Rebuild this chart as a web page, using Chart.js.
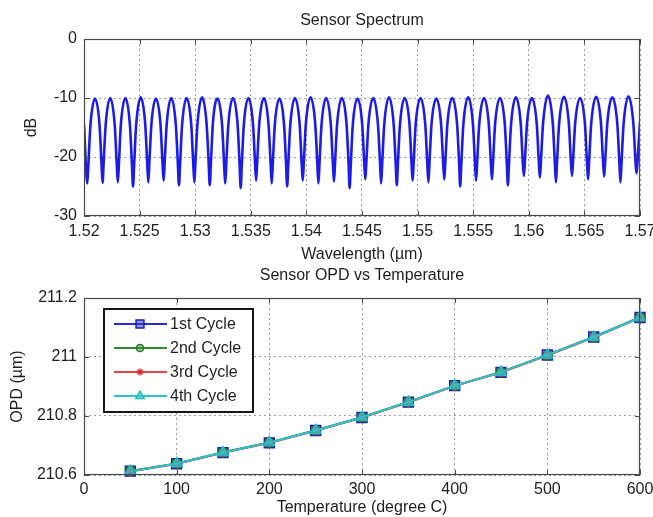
<!DOCTYPE html>
<html><head><meta charset="utf-8">
<script src="https://cdn.jsdelivr.net/npm/chart.js@4.4.1/dist/chart.umd.min.js"></script>
<style>
html,body{margin:0;padding:0;background:#fff;}
#wrap{position:relative;width:653px;height:517px;overflow:hidden;background:#fff;}
canvas{position:absolute;left:0;}
#c1{top:0;width:653px;height:266px;}
#c2{top:258px;width:653px;height:259px;}
</style></head><body>
<div id="wrap"><canvas id="c1" width="653" height="266"></canvas><canvas id="c2" width="653" height="259"></canvas></div>
<script>
// ---------- Top plot data: Sensor Spectrum ----------
const wavelengths = [1.52000,
 1.52030,1.52040,1.52058,1.52099,1.52139,1.52157,
 1.52167,1.52177,1.52195,1.52236,1.52276,1.52294,
 1.52304,1.52314,1.52332,1.52373,1.52413,1.52431,
 1.52441,1.52451,1.52469,1.52510,1.52550,1.52568,
 1.52578,1.52588,1.52606,1.52647,1.52688,1.52706,
 1.52716,1.52726,1.52744,1.52785,1.52826,1.52844,
 1.52854,1.52864,1.52882,1.52923,1.52964,1.52982,
 1.52992,1.53002,1.53020,1.53062,1.53103,1.53121,
 1.53131,1.53141,1.53159,1.53201,1.53242,1.53260,
 1.53270,1.53280,1.53298,1.53340,1.53381,1.53399,
 1.53409,1.53419,1.53437,1.53479,1.53520,1.53538,
 1.53548,1.53558,1.53576,1.53618,1.53660,1.53678,
 1.53688,1.53698,1.53716,1.53758,1.53799,1.53817,
 1.53827,1.53837,1.53855,1.53897,1.53939,1.53957,
 1.53967,1.53977,1.53995,1.54038,1.54080,1.54098,
 1.54108,1.54118,1.54136,1.54178,1.54220,1.54238,
 1.54248,1.54258,1.54276,1.54319,1.54361,1.54379,
 1.54389,1.54399,1.54417,1.54460,1.54502,1.54520,
 1.54530,1.54540,1.54558,1.54601,1.54644,1.54662,
 1.54672,1.54682,1.54700,1.54743,1.54785,1.54803,
 1.54813,1.54823,1.54841,1.54884,1.54927,1.54945,
 1.54955,1.54965,1.54983,1.55026,1.55069,1.55087,
 1.55097,1.55107,1.55125,1.55169,1.55212,1.55230,
 1.55240,1.55250,1.55268,1.55312,1.55355,1.55373,
 1.55383,1.55393,1.55411,1.55455,1.55498,1.55516,
 1.55526,1.55536,1.55554,1.55598,1.55641,1.55659,
 1.55669,1.55679,1.55697,1.55741,1.55784,1.55802,
 1.55812,1.55822,1.55840,1.55884,1.55928,1.55946,
 1.55956,1.55966,1.55984,1.56028,1.56072,1.56090,
 1.56100,1.56110,1.56128,1.56172,1.56216,1.56234,
 1.56244,1.56254,1.56272,1.56317,1.56361,1.56379,
 1.56389,1.56399,1.56417,1.56461,1.56505,1.56523,
 1.56533,1.56543,1.56561,1.56606,1.56650,1.56668,
 1.56678,1.56688,1.56706,1.56751,1.56796,1.56814,
 1.56824,1.56834,1.56852,1.56897,1.56941,1.56959,
 1.56969,1.56979,1.57000];
const spectrumDb = [-14.5,
 -24.5,-21.0,-14.6,-10.1,-14.4,-20.9,
 -24.4,-20.8,-14.5,-10.0,-14.5,-21.0,
 -24.3,-21.1,-14.4,-10.0,-14.6,-21.2,
 -25.0,-21.3,-14.6,-9.9,-14.3,-20.8,
 -24.3,-20.9,-14.5,-10.1,-14.5,-21.0,
 -24.0,-20.7,-14.4,-10.0,-14.6,-21.1,
 -24.8,-21.2,-14.6,-10.0,-14.4,-20.9,
 -24.3,-20.9,-14.5,-9.9,-14.5,-21.0,
 -24.8,-21.1,-14.3,-10.1,-14.6,-21.2,
 -24.5,-21.0,-14.5,-10.0,-14.4,-21.1,
 -25.3,-21.4,-14.6,-10.0,-14.5,-20.9,
 -24.0,-20.7,-14.4,-10.0,-14.6,-21.0,
 -24.5,-21.0,-14.5,-10.1,-14.5,-21.1,
 -25.0,-21.2,-14.6,-10.0,-14.4,-20.9,
 -24.0,-20.8,-14.4,-9.9,-14.5,-21.0,
 -24.5,-21.0,-14.5,-10.0,-14.6,-21.1,
 -24.2,-20.9,-14.5,-10.0,-14.4,-21.0,
 -25.3,-21.4,-14.6,-10.1,-14.5,-20.9,
 -23.8,-20.6,-14.4,-10.0,-14.6,-21.0,
 -24.5,-21.0,-14.5,-9.9,-14.5,-21.1,
 -24.8,-21.1,-14.6,-10.0,-14.4,-20.9,
 -24.0,-20.8,-14.4,-10.0,-14.5,-21.0,
 -24.3,-20.9,-14.5,-10.1,-14.6,-21.1,
 -23.8,-20.6,-14.4,-10.0,-14.4,-20.9,
 -25.0,-21.3,-14.6,-9.9,-14.5,-21.0,
 -24.0,-20.8,-14.5,-10.0,-14.6,-21.1,
 -23.8,-20.6,-14.4,-10.0,-14.4,-20.9,
 -24.8,-21.1,-14.6,-9.9,-14.5,-21.0,
 -23.2,-20.3,-14.3,-10.0,-14.5,-20.8,
 -23.5,-20.5,-14.4,-9.6,-14.4,-20.9,
 -24.3,-20.9,-14.5,-9.8,-14.5,-21.0,
 -23.2,-20.3,-14.3,-10.0,-14.4,-20.8,
 -23.8,-20.6,-14.4,-9.8,-14.5,-20.9,
 -23.3,-20.4,-14.3,-9.9,-14.4,-20.8,
 -24.3,-20.9,-14.5,-9.7,-14.5,-20.7,
 -22.8,-20.3,-14.0];
const spectrumXTicks = [1.52,1.525,1.53,1.535,1.54,1.545,1.55,1.555,1.56,1.565,1.57];
const spectrumXTickLabels = ['1.52','1.525','1.53','1.535','1.54','1.545','1.55','1.555','1.56','1.565','1.57'];
const spectrumYTicks = [-30,-20,-10,0];
const spectrumYTickLabels = ['-30','-20','-10','0'];

// ---------- Bottom plot data: OPD vs Temperature ----------
const temperatures = [50,100,150,200,250,300,350,400,450,500,550,600];
const cycle1 = [210.613,210.638,210.676,210.709,210.751,210.795,210.847,210.903,210.948,211.007,211.068,211.134];
const cycle2 = [210.614,210.639,210.677,210.710,210.752,210.796,210.848,210.902,210.949,211.006,211.067,211.135];
const cycle3 = [210.612,210.638,210.675,210.709,210.750,210.795,210.846,210.902,210.947,211.006,211.066,211.133];
const cycle4 = [210.613,210.639,210.676,210.710,210.751,210.796,210.847,210.903,210.948,211.007,211.067,211.134];
const opdXTicks = [0,100,200,300,400,500,600];
const opdXTickLabels = ['0','100','200','300','400','500','600'];
const opdYTicks = [210.6,210.8,211,211.2];
const opdYTickLabels = ['210.6','210.8','211','211.2'];

const FONT = '"Liberation Sans", Arial, Helvetica, sans-serif';
const TXT = '#1e1e1e';
Chart.defaults.font.family = FONT;
Chart.defaults.font.size = 16;
Chart.defaults.color = TXT;

const framePlugin = {
  id: 'frame',
  afterDraw(chart) {
    const {ctx, chartArea: a, scales} = chart;
    ctx.save();
    ctx.strokeStyle = '#4a4a4a';
    ctx.lineWidth = 1.2;
    ctx.strokeRect(a.left + 0.5, a.top + 0.5, a.right - a.left - 1, a.bottom - a.top - 1);
    ctx.lineWidth = 1;
    ctx.beginPath();
    const L = 5;
    scales.x.ticks.forEach(t => {
      const px = Math.round(scales.x.getPixelForValue(t.value)) + 0.5;
      ctx.moveTo(px, a.bottom); ctx.lineTo(px, a.bottom - L);
      ctx.moveTo(px, a.top); ctx.lineTo(px, a.top + L);
    });
    scales.y.ticks.forEach(t => {
      const py = Math.round(scales.y.getPixelForValue(t.value)) + 0.5;
      ctx.moveTo(a.left, py); ctx.lineTo(a.left + L, py);
      ctx.moveTo(a.right, py); ctx.lineTo(a.right - L, py);
    });
    ctx.stroke();
    ctx.restore();
  }
};

function drawMarker(ctx, style, r, x, y) {
  if (Chart.helpers && Chart.helpers.drawPoint) {
    Chart.helpers.drawPoint(ctx, {pointStyle: style, radius: r, rotation: 0, borderWidth: ctx.lineWidth}, x, y);
    return;
  }
  ctx.beginPath(); ctx.arc(x, y, r, 0, Math.PI * 2); ctx.fill(); ctx.stroke();
}

const legendPlugin = {
  id: 'boxLegend',
  afterDraw(chart) {
    const {ctx, chartArea: a} = chart;
    const x0 = a.left + 20, y0 = a.top + 11, w = 149, h = 103;
    ctx.save();
    ctx.fillStyle = '#fff';
    ctx.fillRect(x0, y0, w, h);
    ctx.strokeStyle = '#161616';
    ctx.lineWidth = 2;
    ctx.strokeRect(x0, y0, w, h);
    ctx.font = '16px ' + FONT;
    ctx.textBaseline = 'middle';
    ctx.textAlign = 'left';
    chart.data.datasets.forEach((ds, i) => {
      const y = y0 + 15 + i * 24;
      ctx.strokeStyle = ds.borderColor;
      ctx.lineWidth = 2;
      ctx.beginPath(); ctx.moveTo(x0 + 10, y); ctx.lineTo(x0 + 63, y); ctx.stroke();
      ctx.fillStyle = ds.pointBackgroundColor;
      ctx.strokeStyle = ds.pointBorderColor;
      ctx.lineWidth = ds.pointBorderWidth;
      drawMarker(ctx, ds.pointStyle, ds.pointRadius * 0.8, x0 + 36, y);
      ctx.fillStyle = TXT;
      ctx.fillText(ds.label, x0 + 66, y + 1);
    });
    ctx.restore();
  }
};

function gridOpts() {
  return {color: '#9c9c9c', lineWidth: 1, drawTicks: false};
}
function fixTicks(values) {
  return s => { s.ticks = values.map(v => ({value: v})); };
}

// ---------- Top chart ----------
new Chart(document.getElementById('c1'), {
  type: 'line',
  data: {
    datasets: [{
      label: 'Spectrum',
      data: wavelengths.map((w, i) => ({x: w, y: spectrumDb[i]})),
      borderColor: '#1c1ce8',
      borderWidth: 2.6,
      pointRadius: 0,
      cubicInterpolationMode: 'monotone',
      fill: false
    }]
  },
  options: {
    responsive: false, animation: false, devicePixelRatio: 1,
    layout: {padding: {left: 0, right: 13, top: 0, bottom: 0}},
    plugins: {
      legend: {display: false}, tooltip: {enabled: false},
      title: {display: true, text: 'Sensor Spectrum', fullSize: false, color: TXT,
              font: {size: 16, weight: 'normal'}, padding: {top: 11.4, bottom: 8.4}}
    },
    scales: {
      x: {
        type: 'linear', min: 1.52, max: 1.57,
        afterBuildTicks: fixTicks(spectrumXTicks),
        afterFit: s => { s.height = 50; s.paddingLeft = 0; s.paddingRight = 0; },
        ticks: {callback: (v, i) => spectrumXTickLabels[i], padding: 5.7, maxRotation: 0, autoSkip: false, color: TXT, font: {size: 16}},
        grid: gridOpts(),
        border: {display: false, dash: [2, 3]},
        title: {display: true, text: 'Wavelength (\u00b5m)', color: TXT, font: {size: 16}, padding: {top: 0, bottom: 1.4}}
      },
      y: {
        type: 'linear', min: -30, max: 0,
        afterBuildTicks: fixTicks(spectrumYTicks),
        afterFit: s => { s.width = 84; s.paddingTop = 0; s.paddingBottom = 0; },
        ticks: {callback: (v, i) => spectrumYTickLabels[i], padding: 7, autoSkip: false, color: TXT, font: {size: 16}},
        grid: gridOpts(),
        border: {display: false, dash: [2, 3]},
        title: {display: true, text: 'dB', color: TXT, font: {size: 16}, padding: {top: 22.4, bottom: 0}}
      }
    }
  },
  plugins: [framePlugin]
});

// ---------- Bottom chart ----------
function pairs(xs, ys) { return xs.map((x, i) => ({x: x, y: ys[i]})); }
new Chart(document.getElementById('c2'), {
  type: 'line',
  data: {
    datasets: [
      {label: '1st Cycle', data: pairs(temperatures, cycle1), order: 3,
       borderColor: '#2b2bd4', borderWidth: 2, pointStyle: 'rect', pointRadius: 7,
       pointBorderColor: '#1a1ab8', pointBackgroundColor: 'rgba(40,70,190,0.55)', pointBorderWidth: 1.5, clip: false},
      {label: '2nd Cycle', data: pairs(temperatures, cycle2), order: 2,
       borderColor: '#2f8a2f', borderWidth: 2, pointStyle: 'circle', pointRadius: 4.5,
       pointBorderColor: '#1f7a1f', pointBackgroundColor: 'rgba(60,150,60,0.5)', pointBorderWidth: 1.5, clip: false},
      {label: '3rd Cycle', data: pairs(temperatures, cycle3), order: 1,
       borderColor: '#e04848', borderWidth: 2, pointStyle: 'star', pointRadius: 4.5,
       pointBorderColor: '#e03030', pointBackgroundColor: '#e03030', pointBorderWidth: 1.5, clip: false},
      {label: '4th Cycle', data: pairs(temperatures, cycle4), order: 0,
       borderColor: '#2cc4c8', borderWidth: 2, pointStyle: 'triangle', pointRadius: 6,
       pointBorderColor: '#22b8c0', pointBackgroundColor: 'rgba(50,200,205,0.65)', pointBorderWidth: 1.5, clip: false}
    ]
  },
  options: {
    responsive: false, animation: false, devicePixelRatio: 1,
    layout: {padding: {left: 0, right: 13, top: 0, bottom: 0}},
    plugins: {
      legend: {display: false}, tooltip: {enabled: false},
      title: {display: true, text: 'Sensor OPD vs Temperature', fullSize: false, color: TXT,
              font: {size: 16, weight: 'normal'}, padding: {top: 8.4, bottom: 12.4}}
    },
    scales: {
      x: {
        type: 'linear', min: 0, max: 600,
        afterBuildTicks: fixTicks(opdXTicks),
        afterFit: s => { s.height = 42; s.paddingLeft = 0; s.paddingRight = 0; },
        ticks: {callback: (v, i) => opdXTickLabels[i], padding: 4.7, maxRotation: 0, autoSkip: false, color: TXT, font: {size: 16}},
        grid: gridOpts(),
        border: {display: false, dash: [2, 3]},
        title: {display: true, text: 'Temperature (degree C)', color: TXT, font: {size: 16}, padding: {top: 0, bottom: 0.2}}
      },
      y: {
        type: 'linear', min: 210.6, max: 211.2,
        afterBuildTicks: fixTicks(opdYTicks),
        afterFit: s => { s.width = 84; s.paddingTop = 0; s.paddingBottom = 0; },
        ticks: {callback: (v, i) => opdYTickLabels[i], padding: 7, autoSkip: false, color: TXT, font: {size: 16}},
        grid: gridOpts(),
        border: {display: false, dash: [2, 3]},
        title: {display: true, text: 'OPD (\u00b5m)', color: TXT, font: {size: 16}, padding: {top: 8.4, bottom: 0}}
      }
    }
  },
  plugins: [framePlugin, legendPlugin]
});
</script>
</body></html>
